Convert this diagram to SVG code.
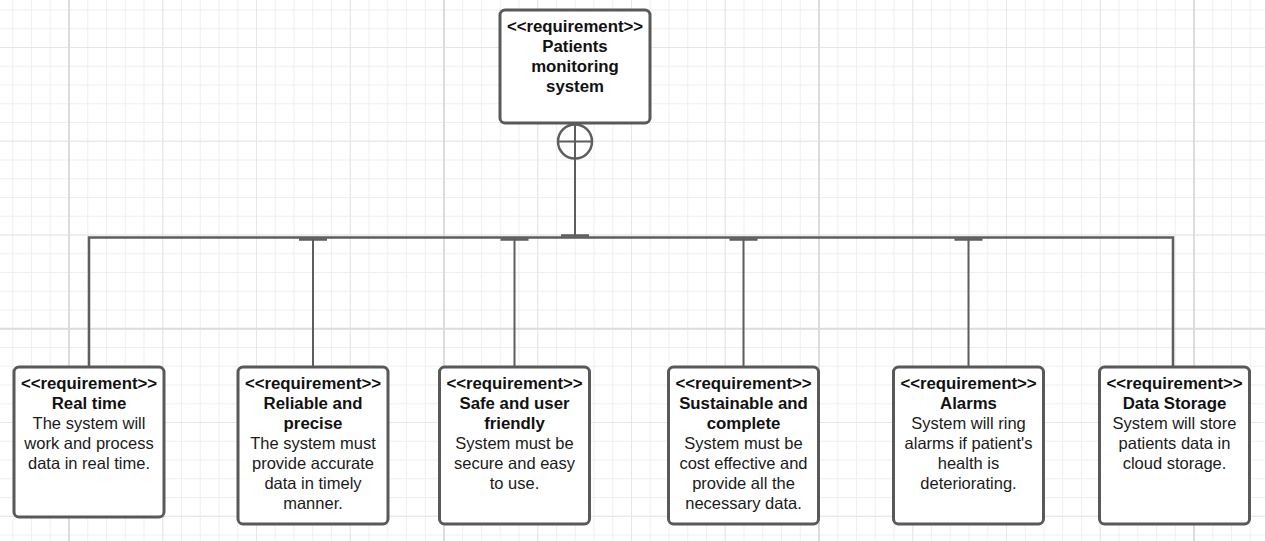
<svg xmlns="http://www.w3.org/2000/svg" width="1265" height="541" viewBox="0 0 1265 541">
<defs>
<pattern id="gMinor" x="12.25" y="9.5" width="18.75" height="18.75" patternUnits="userSpaceOnUse"><path d="M0 0.5H18.75M0.5 0V18.75" stroke="#efefef" stroke-width="1" fill="none"/></pattern>
<pattern id="gMid" x="68.5" y="47" width="93.75" height="93.75" patternUnits="userSpaceOnUse"><path d="M0 0.5H93.75M0.5 0V93.75" stroke="#e6e6e6" stroke-width="1" fill="none"/></pattern>
<pattern id="gMajor" x="68" y="327.75" width="375" height="375" patternUnits="userSpaceOnUse"><path d="M0 1H375M1 0V375" stroke="#dcdcdc" stroke-width="2" fill="none"/></pattern>
</defs>
<style>
.box{fill:#ffffff;stroke:#595959;stroke-width:3}
.ln{fill:none;stroke:#5e5e5e;stroke-width:2}
.bus{fill:none;stroke:#5e5e5e;stroke-width:2.5}
.tick{stroke:#5e5e5e;stroke-width:2.5}
.b{font-family:"Liberation Sans",Arial,sans-serif;font-weight:bold;font-size:16.8px;fill:#111;text-anchor:middle}
.r{font-family:"Liberation Sans",Arial,sans-serif;font-size:16.5px;fill:#1a1a1a;text-anchor:middle}
</style>
<rect x="0" y="0" width="1265" height="541" fill="#ffffff"/>
<rect x="0" y="0" width="1265" height="541" fill="url(#gMinor)"/>
<rect x="0" y="0" width="1265" height="541" fill="url(#gMid)"/>
<rect x="0" y="0" width="1265" height="541" fill="url(#gMajor)"/>

<g id="connectors">
<path class="bus" d="M89 367V237.5H1173V367"/>
<circle cx="575" cy="141.5" r="17" fill="#ffffff" stroke="#5e5e5e" stroke-width="2.5"/>
<path class="ln" d="M558 141.5H592M575 124.5V237.5"/>
<path class="tick" d="M561 235.5H589"/>
<path class="ln" d="M313 238V367M514.5 238V367M743.5 238V367M968.5 238V367"/>
<path class="tick" d="M299 239.5H327M500.5 239.5H528.5M729.5 239.5H757.5M954.5 239.5H982.5"/>
</g>

<g id="n-root">
<rect class="box" x="500" y="10" width="150" height="113" rx="5"/>
<text class="b" x="575" y="32">&lt;&lt;requirement&gt;&gt;</text>
<text class="b" x="575" y="52">Patients</text>
<text class="b" x="575" y="72">monitoring</text>
<text class="b" x="575" y="92">system</text>
</g>

<g id="n-realtime">
<rect class="box" x="14" y="367" width="150" height="150" rx="5"/>
<text class="b" x="89" y="389">&lt;&lt;requirement&gt;&gt;</text>
<text class="b" x="89" y="409">Real time</text>
<text class="r" x="89" y="429">The system will</text>
<text class="r" x="89" y="449">work and process</text>
<text class="r" x="89" y="469">data in real time.</text>
</g>

<g id="n-reliable">
<rect class="box" x="238" y="367" width="150" height="157" rx="5"/>
<text class="b" x="313" y="389">&lt;&lt;requirement&gt;&gt;</text>
<text class="b" x="313" y="409">Reliable and</text>
<text class="b" x="313" y="429">precise</text>
<text class="r" x="313" y="449">The system must</text>
<text class="r" x="313" y="469">provide accurate</text>
<text class="r" x="313" y="489">data in timely</text>
<text class="r" x="313" y="509">manner.</text>
</g>

<g id="n-safe">
<rect class="box" x="439.5" y="367" width="150" height="157" rx="5"/>
<text class="b" x="514.5" y="389">&lt;&lt;requirement&gt;&gt;</text>
<text class="b" x="514.5" y="409">Safe and user</text>
<text class="b" x="514.5" y="429">friendly</text>
<text class="r" x="514.5" y="449">System must be</text>
<text class="r" x="514.5" y="469">secure and easy</text>
<text class="r" x="514.5" y="489">to use.</text>
</g>

<g id="n-sustainable">
<rect class="box" x="668.5" y="367" width="150" height="157" rx="5"/>
<text class="b" x="743.5" y="389">&lt;&lt;requirement&gt;&gt;</text>
<text class="b" x="743.5" y="409">Sustainable and</text>
<text class="b" x="743.5" y="429">complete</text>
<text class="r" x="743.5" y="449">System must be</text>
<text class="r" x="743.5" y="469">cost effective and</text>
<text class="r" x="743.5" y="489">provide all the</text>
<text class="r" x="743.5" y="509">necessary data.</text>
</g>

<g id="n-alarms">
<rect class="box" x="893.5" y="367" width="150" height="157" rx="5"/>
<text class="b" x="968.5" y="389">&lt;&lt;requirement&gt;&gt;</text>
<text class="b" x="968.5" y="409">Alarms</text>
<text class="r" x="968.5" y="429">System will ring</text>
<text class="r" x="968.5" y="449">alarms if patient's</text>
<text class="r" x="968.5" y="469">health is</text>
<text class="r" x="968.5" y="489">deteriorating.</text>
</g>

<g id="n-storage">
<rect class="box" x="1099.5" y="367" width="150" height="157" rx="5"/>
<text class="b" x="1174.5" y="389">&lt;&lt;requirement&gt;&gt;</text>
<text class="b" x="1174.5" y="409">Data Storage</text>
<text class="r" x="1174.5" y="429">System will store</text>
<text class="r" x="1174.5" y="449">patients data in</text>
<text class="r" x="1174.5" y="469">cloud storage.</text>
</g>
</svg>
